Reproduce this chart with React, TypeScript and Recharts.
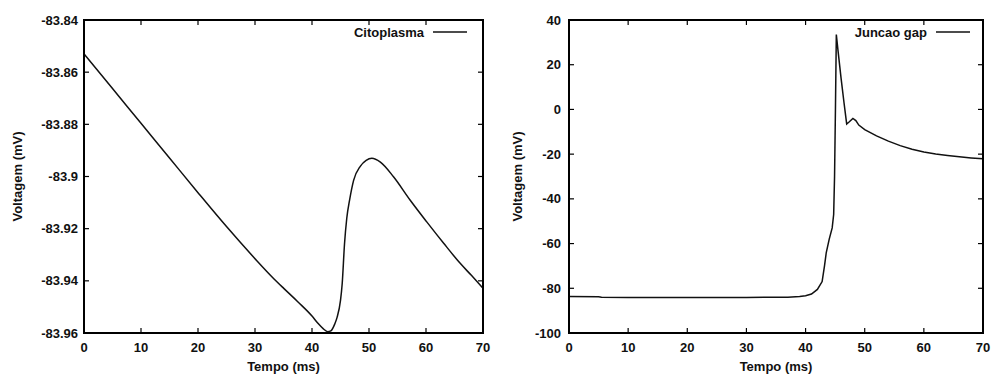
import React from 'react';
import { LineChart, Line, XAxis, YAxis } from 'recharts';

const timeTicks = [0, 10, 20, 30, 40, 50, 60, 70];
const citoTicks = [-83.96, -83.94, -83.92, -83.9, -83.88, -83.86, -83.84];
const gapTicks = [-100, -80, -60, -40, -20, 0, 20, 40];

const citoTime = [0, 5, 10, 15, 20, 25, 30, 33, 35, 37.5, 40, 41, 42, 42.75, 43.3, 44, 44.4, 45, 45.3, 45.7, 46.1, 46.6, 47.3, 48.5, 49.5, 50.5, 52, 54.3, 57.2, 60.1, 63.1, 66, 68, 70];
const citoVolt = [-83.853, -83.8663, -83.8796, -83.8929, -83.9062, -83.9192, -83.9315, -83.9385, -83.9428, -83.948, -83.9535, -83.9562, -83.9584, -83.9595, -83.9592, -83.9565, -83.954, -83.9475, -83.941, -83.926, -83.916, -83.909, -83.9015, -83.896, -83.8938, -83.893, -83.8945, -83.9001, -83.909, -83.9173, -83.9256, -83.9333, -83.938, -83.9428];

const gapTime = [0, 5, 5.5, 10, 20, 30, 37, 39, 40, 41, 42, 42.8, 43.2, 43.5, 44, 44.5, 44.75, 44.9, 45.05, 45.2, 45.5, 46, 46.5, 46.95, 47.4, 48, 48.5, 49, 50, 52, 54, 56, 58, 60, 62, 64, 66, 68, 70];
const gapVolt = [-83.7, -83.8, -84.0, -84.1, -84.1, -84.1, -84.0, -83.7, -83.3, -82.6, -80.5, -77, -70, -64, -58, -53, -47, -30, 0, 33.5, 26, 14, 3, -6.5, -5.5, -4, -5, -7, -9, -11.8, -14.2, -16.2, -17.8, -19.0, -19.9, -20.6, -21.2, -21.7, -22.1];

const citoData = citoTime.map((t, i) => ({ t, v: citoVolt[i] }));
const gapData = gapTime.map((t, i) => ({ t, v: gapVolt[i] }));

const FONT = '"Liberation Sans", Arial, Helvetica, sans-serif';
const TXT = '#111';
const CHART_H = 374;
const PLOT_TOP = 20;
const X_AXIS_H = 41;
const TICK_LEN = 5;
const X_MARGIN = 10;

const fmt = (v: number) => String(+Number(v).toFixed(2));

const BottomTick = (props: any) => {
  const { x, y, payload } = props;
  const axisY = y - X_MARGIN;
  return (
    <g>
      <line x1={x} y1={axisY} x2={x} y2={axisY - TICK_LEN} stroke="#000" strokeWidth={1.2} />
      <line x1={x} y1={PLOT_TOP} x2={x} y2={PLOT_TOP + TICK_LEN} stroke="#000" strokeWidth={1.2} />
      <text x={x} y={y} dy="0.71em" textAnchor="middle" fontFamily={FONT} fontWeight="bold" fontSize={13} fill={TXT}>
        {payload.value}
      </text>
    </g>
  );
};

const makeLeftTick = (margin: number, plotRight: number) => (props: any) => {
  const { x, y, payload } = props;
  const axisX = x + margin;
  return (
    <g>
      <line x1={axisX} y1={y} x2={axisX + TICK_LEN} y2={y} stroke="#000" strokeWidth={1.2} />
      <line x1={plotRight} y1={y} x2={plotRight - TICK_LEN} y2={y} stroke="#000" strokeWidth={1.2} />
      <text x={x} y={y} dy="0.35em" textAnchor="end" fontFamily={FONT} fontWeight="bold" fontSize={13} fill={TXT}>
        {fmt(payload.value)}
      </text>
    </g>
  );
};

const makeYLabel = (cx: number) => (props: any) => {
  const vb = props.viewBox || {};
  const cy = (vb.y || 0) + (vb.height || 0) / 2;
  return (
    <text x={cx} y={cy} transform={`rotate(-90 ${cx} ${cy})`} textAnchor="middle" dominantBaseline="central" fontFamily={FONT} fontWeight="bold" fontSize={13} fill={TXT}>
      Voltagem (mV)
    </text>
  );
};

const makeXLabel = (name: string, legendRight: number) => (props: any) => {
  const vb = props.viewBox || {};
  const cx = (vb.x || 0) + (vb.width || 0) / 2;
  const right = (vb.x || 0) + (vb.width || 0);
  const lx2 = right - legendRight + 13;
  const lx1 = lx2 - 34;
  return (
    <g>
      <text x={cx} y={366} textAnchor="middle" dominantBaseline="central" fontFamily={FONT} fontWeight="bold" fontSize={13} fill={TXT}>
        Tempo (ms)
      </text>
      <text x={lx1 - 9} y={32} textAnchor="end" dominantBaseline="central" fontFamily={FONT} fontWeight="bold" fontSize={13} fill={TXT}>
        {name}
      </text>
      <line x1={lx1} y1={32} x2={lx2} y2={32} stroke="#111" strokeWidth={1.5} />
    </g>
  );
};

type PanelProps = {
  data: { t: number; v: number }[];
  width: number;
  yTicks: number[];
  yDomain: [number, number];
  yWidth: number;
  rightMargin: number;
  tickMargin: number;
  yLabelX: number;
  name: string;
  legendRight: number;
  curve: 'monotone' | 'linear';
};

const axisLine = { stroke: '#000', strokeWidth: 2 };

const Panel = (p: PanelProps) => {
  const plotRight = p.width - p.rightMargin;
  const plotW = plotRight - p.yWidth;
  const plotH = CHART_H - PLOT_TOP - X_AXIS_H;
  return (
    <div style={{ position: 'relative', width: p.width, height: CHART_H }}>
      <LineChart width={p.width} height={CHART_H} data={p.data} margin={{ top: PLOT_TOP, right: p.rightMargin, bottom: 0, left: 0 }}>
        <XAxis dataKey="t" type="number" domain={[0, 70]} ticks={timeTicks} height={X_AXIS_H} tickSize={0} tickMargin={X_MARGIN} axisLine={axisLine} tickLine={false} tick={BottomTick} interval={0} label={makeXLabel(p.name, p.legendRight)} />
        <YAxis domain={p.yDomain} ticks={p.yTicks} width={p.yWidth} tickSize={0} tickMargin={p.tickMargin} axisLine={axisLine} tickLine={false} tick={makeLeftTick(p.tickMargin, plotRight)} interval={0} label={makeYLabel(p.yLabelX)} />
        <Line dataKey="v" name={p.name} type={p.curve} stroke="#111" strokeWidth={1.5} dot={false} isAnimationActive={false} activeDot={false} />
      </LineChart>
      <div
        style={{
          position: 'absolute',
          left: p.yWidth - 1,
          top: PLOT_TOP - 1,
          width: plotW + 2,
          height: plotH + 2,
          border: '2px solid #000',
          boxSizing: 'border-box',
          pointerEvents: 'none',
        }}
      />
    </div>
  );
};

export default function App() {
  return (
    <div style={{ position: 'absolute', left: 0, top: 0, width: 993, height: 374 }}>
      <div style={{ position: 'absolute', left: 0, top: 0 }}>
        <Panel data={citoData} width={496} yTicks={citoTicks} yDomain={[-83.96, -83.84]} yWidth={84} rightMargin={13} tickMargin={6} yLabelX={17} name="Citoplasma" legendRight={29} curve="monotone" />
      </div>
      <div style={{ position: 'absolute', left: 490, top: 0 }}>
        <Panel data={gapData} width={503} yTicks={gapTicks} yDomain={[-100, 40]} yWidth={79} rightMargin={10} tickMargin={8} yLabelX={27} name="Juncao gap" legendRight={26} curve="linear" />
      </div>
    </div>
  );
}
